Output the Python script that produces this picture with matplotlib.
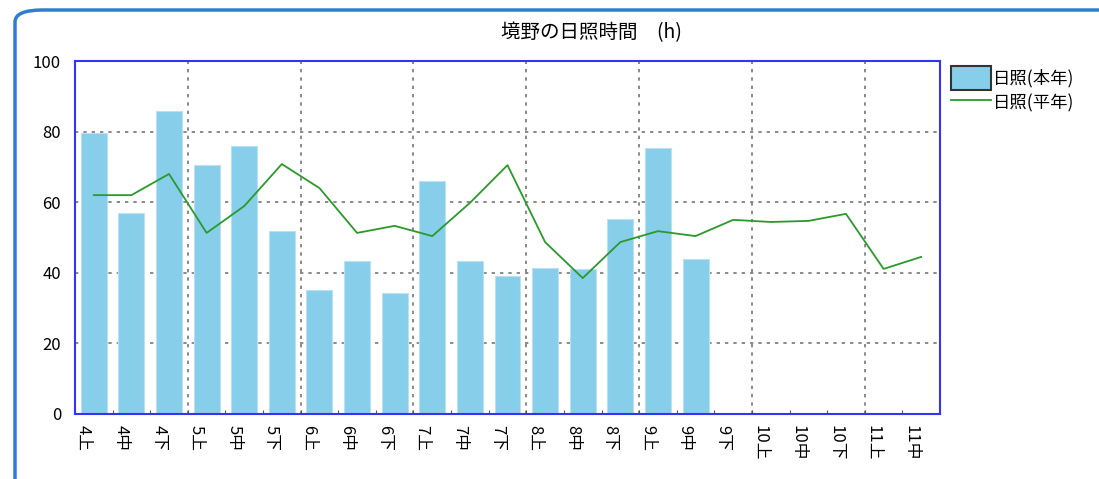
import numpy as np
import matplotlib.pyplot as plt
from matplotlib.patches import FancyBboxPatch, Patch
from matplotlib.lines import Line2D

plt.rcParams['font.family'] = ['Noto Sans CJK JP', 'DejaVu Sans']

labels = ["4上", "4中", "4下", "5上", "5中", "5下", "6上", "6中", "6下",
          "7上", "7中", "7下", "8上", "8中", "8下", "9上", "9中", "9下",
          "10上", "10中", "10下", "11上", "11中"]
this_year = [79.6, 56.9, 85.8, 70.5, 75.9, 51.8, 35.1, 43.3, 34.3,
             66.0, 43.3, 39.1, 41.4, 41.1, 55.2, 75.4, 43.9]
normal = [62.0, 62.0, 68.0, 51.3, 58.9, 70.8, 64.0, 51.3, 53.3,
          50.4, 59.8, 70.5, 48.7, 38.5, 48.7, 51.8, 50.4, 55.0,
          54.4, 54.7, 56.7, 41.1, 44.5]

fig = plt.figure(figsize=(10.99, 4.79), dpi=100)
# outer rounded frame
frame = FancyBboxPatch((15 / 1099, -0.1), 1.2, 1.1 - 10 / 479,
                       boxstyle="round,pad=0,rounding_size=0.025",
                       transform=fig.transFigure, fill=False,
                       edgecolor="#2a7fd4", linewidth=2.5, zorder=0)
fig.patches.append(frame)

ax = fig.add_axes([75 / 1099, 65 / 479, 865 / 1099, 353 / 479])
x = np.arange(len(this_year))
ax.bar(x, this_year, width=0.69, color="#87ceeb", edgecolor="#b8e2f4",
       linewidth=0.8, zorder=2)
ax.plot(np.arange(len(normal)), normal, color="#2a9a2a", linewidth=1.3, zorder=3)

ax.set_xlim(-0.5, len(labels) - 0.5)
ax.set_ylim(0, 100)
ax.set_yticks([0, 20, 40, 60, 80, 100])
ax.tick_params(axis='y', length=0, labelsize=12, pad=10)
ticks = np.arange(len(labels)) - 0.5
ax.set_xticks(ticks)
ax.set_xticklabels(labels, rotation=-90, ha='left', va='top', fontsize=12)
ax.tick_params(axis='x', direction='in', length=3, color="#555555", pad=8)

for v in [20, 40, 60, 80]:
    ax.axhline(v, color="#777777", linestyle=(0, (2, 3)), linewidth=1.2, zorder=1)
for t in ticks[3::3]:
    ax.axvline(t, color="#777777", linestyle=(0, (2, 3)), linewidth=1.2, zorder=1)

for s in ax.spines.values():
    s.set_color("#3333ff")
    s.set_linewidth(1.5)

fig.text(591 / 1099, 1 - 33 / 479, "境野の日照時間　(h)", ha='center', va='center',
         fontsize=14)

handles = [Patch(facecolor="#87ceeb", edgecolor="#333333", linewidth=1.5),
           Line2D([], [], color="#2a9a2a", linewidth=1.3)]
fig.legend(handles, ["日照(本年)", "日照(平年)"], loc='upper left',
           bbox_to_anchor=(935 / 1099, 1 - 50 / 479), frameon=False,
           fontsize=12.5, handlelength=2.3, handleheight=1.8,
           handletextpad=0.15, labelspacing=0.05)

fig.savefig("out.png", dpi=100)
